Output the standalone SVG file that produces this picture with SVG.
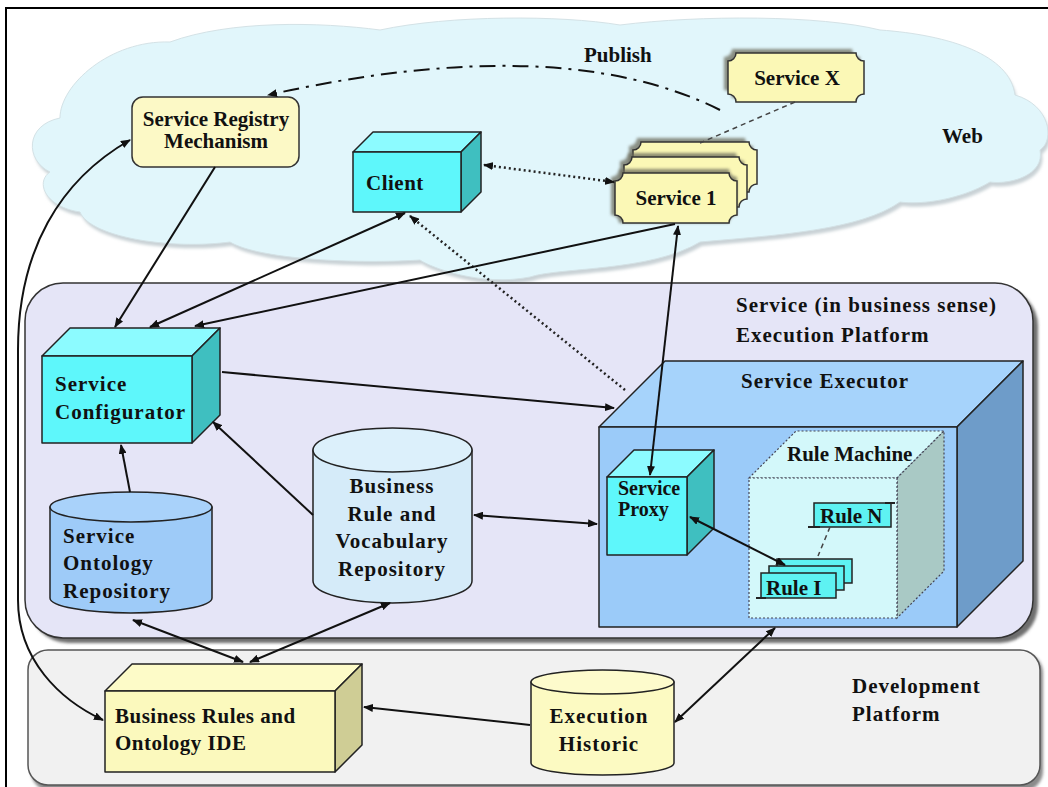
<svg xmlns="http://www.w3.org/2000/svg" width="1048" height="787" viewBox="0 0 1048 787">
  <defs>
    <style>
      .lbl { font-family: "Liberation Serif", "Times New Roman", serif; font-weight: bold; font-size: 21px; fill: #111; }
      .sm { font-size: 20px; }
      .sp { letter-spacing: 1px; }
      .mid { text-anchor: middle; }
      .edge { stroke: #222; stroke-width: 1.5; stroke-linejoin: round; }
      .conn { fill: none; stroke: #111; stroke-width: 2; }
      .dotted { fill: none; stroke: #222; stroke-width: 2.5; stroke-dasharray: 2 3; }
      .dashed { fill: none; stroke: #444; stroke-width: 1.5; stroke-dasharray: 5 4; }
      .cyanFront { fill: #5ef7fb; }
      .cyanTop { fill: #8cfbff; }
      .cyanSide { fill: #3fbfc0; }
      .tag { fill: #fbf8b6; stroke: #333; stroke-width: 1.5; }
      .tagShadow { fill: #6c6c5c; opacity: 0.75; }
      .rule { fill: #5ef2f2; stroke: #222; stroke-width: 1.5; }
    </style>
    <marker id="arrow" viewBox="0 0 10 8" refX="9" refY="4" markerWidth="10" markerHeight="8" markerUnits="userSpaceOnUse" orient="auto-start-reverse">
      <path d="M0,0 L10,4 L0,8 z" fill="#111"/>
    </marker>
    <filter id="soft" x="-10%" y="-10%" width="120%" height="120%">
      <feGaussianBlur stdDeviation="1.5"/>
    </filter>
  </defs>

  <!-- page frame -->
  <rect x="6" y="8" width="1050" height="800" fill="#ffffff" stroke="#000" stroke-width="2"/>

  <!-- web cloud -->
  <g id="web-cloud">
    <path d="M50,172 C25,160 25,125 60,118 C60,85 110,40 170,42 C230,20 320,22 380,30 C450,15 560,15 620,25 C700,15 820,15 880,30 C950,35 1010,55 1015,95 C1050,105 1055,140 1040,150 C1045,175 1010,185 990,182 C960,200 920,205 900,202 C860,230 780,235 700,242 C650,272 560,267 530,277 C480,287 430,267 420,260 C360,264 260,260 230,242 C170,250 90,237 80,212 C45,207 35,182 50,172 Z" fill="#c9d2d6" transform="translate(2,4)" filter="url(#soft)"/>
    <path d="M50,172 C25,160 25,125 60,118 C60,85 110,40 170,42 C230,20 320,22 380,30 C450,15 560,15 620,25 C700,15 820,15 880,30 C950,35 1010,55 1015,95 C1050,105 1055,140 1040,150 C1045,175 1010,185 990,182 C960,200 920,205 900,202 C860,230 780,235 700,242 C650,272 560,267 530,277 C480,287 430,267 420,260 C360,264 260,260 230,242 C170,250 90,237 80,212 C45,207 35,182 50,172 Z" fill="#e1f6fb" stroke="#d4e2e6" stroke-width="1"/>
    <text class="lbl" x="942" y="143">Web</text>
  </g>

  <!-- platforms -->
  <g id="execution-platform">
    <rect x="30" y="288" width="1008" height="355" rx="38" fill="#6e6e6e" filter="url(#soft)"/>
    <rect x="25" y="283" width="1008" height="355" rx="38" fill="#e5e5f7" stroke="#333" stroke-width="1.5"/>
    <text class="lbl sp" x="736" y="312">Service (in business sense)</text>
    <text class="lbl sp" x="736" y="342">Execution Platform</text>
  </g>
  <g id="development-platform">
    <rect x="31" y="653" width="1012" height="138" rx="20" fill="#8a8a8a" filter="url(#soft)"/>
    <rect x="28" y="650" width="1012" height="135" rx="20" fill="#f1f1f1" stroke="#555" stroke-width="1.5"/>
    <text class="lbl sp" x="852" y="693">Development</text>
    <text class="lbl sp" x="852" y="721">Platform</text>
  </g>

  <!-- service executor with nested proxy and rule machine -->
  <g id="service-executor">
    <polygon points="599,427 665,361 1023,361 957,427" fill="#a6d3fb" class="edge"/>
    <polygon points="957,427 1023,361 1023,561 957,627" fill="#6e9cc9" class="edge"/>
    <rect x="599" y="427" width="358" height="200" fill="#9bcbf9" class="edge"/>
    <text class="lbl sp" x="741" y="388">Service Executor</text>
  </g>
  <g id="rule-machine">
    <polygon points="749,478 796,431 944,431 897,478" fill="#d3f8fa" stroke="#445" stroke-width="1.2" stroke-dasharray="2 2"/>
    <polygon points="897,478 944,431 944,571 897,618" fill="#a9c9c5" stroke="#445" stroke-width="1.2" stroke-dasharray="2 2"/>
    <rect x="749" y="478" width="148" height="140" fill="#d3f8fa" stroke="#445" stroke-width="1.2" stroke-dasharray="2 2"/>
    <text class="lbl" x="787" y="461">Rule Machine</text>
  </g>
  <g id="service-proxy">
    <polygon points="607,477 634,450 714,450 687,477" class="cyanTop edge"/>
    <polygon points="687,477 714,450 714,528 687,555" class="cyanSide edge"/>
    <rect x="607" y="477" width="80" height="78" class="cyanFront edge"/>
    <text class="lbl sm" x="618" y="495">Service</text>
    <text class="lbl sm" x="618" y="516">Proxy</text>
  </g>
  <g id="rule-n">
    <rect x="814" y="503" width="77" height="24" class="rule"/>
    <line x1="808" y1="527" x2="820" y2="527" stroke="#222" stroke-width="2"/>
    <line x1="885" y1="503" x2="895" y2="503" stroke="#222" stroke-width="2"/>
    <text class="lbl" x="820" y="523">Rule N</text>
  </g>
  <g id="rule-1">
    <rect x="777" y="559" width="75" height="24" class="rule"/>
    <rect x="769" y="566" width="75" height="24" class="rule"/>
    <rect x="761" y="573" width="75" height="25" class="rule"/>
    <line x1="756" y1="598" x2="766" y2="598" stroke="#222" stroke-width="2"/>
    <text class="lbl" x="766" y="595">Rule I</text>
  </g>

  <!-- web nodes -->
  <g id="service-registry">
    <rect x="132" y="97" width="167" height="70" rx="11" fill="#fcf9c6" stroke="#333" stroke-width="1.5"/>
    <text class="lbl mid" x="216" y="126">Service Registry</text>
    <text class="lbl mid" x="216" y="148">Mechanism</text>
  </g>
  <g id="client">
    <polygon points="353,152 373,132 481,132 461,152" class="cyanTop edge"/>
    <polygon points="461,152 481,132 481,192 461,212" class="cyanSide edge"/>
    <rect x="353" y="152" width="108" height="60" class="cyanFront edge"/>
    <text class="lbl" x="366" y="190" letter-spacing="0.5">Client</text>
  </g>
  <g id="service-x">
    <path d="M732,49 H852 A8 8 0 0 0 860,57 V90 A8 8 0 0 0 852,98 H732 A8 8 0 0 0 724,90 V57 A8 8 0 0 0 732,49 Z" class="tagShadow" filter="url(#soft)"/>
    <path d="M736,53 H856 A8 8 0 0 0 864,61 V94 A8 8 0 0 0 856,102 H736 A8 8 0 0 0 728,94 V61 A8 8 0 0 0 736,53 Z" class="tag"/>
    <text class="lbl mid" x="797" y="85">Service X</text>
  </g>
  <g id="service-1">
    <path d="M637,138 H745 A8 8 0 0 0 753,146 V180 A8 8 0 0 0 745,188 H637 A8 8 0 0 0 629,180 V146 A8 8 0 0 0 637,138 Z" class="tagShadow" filter="url(#soft)"/>
    <path d="M641,142 H749 A8 8 0 0 0 757,150 V184 A8 8 0 0 0 749,192 H641 A8 8 0 0 0 633,184 V150 A8 8 0 0 0 641,142 Z" class="tag"/>
    <path d="M628,153 H736 A8 8 0 0 0 744,161 V195 A8 8 0 0 0 736,203 H628 A8 8 0 0 0 620,195 V161 A8 8 0 0 0 628,153 Z" class="tagShadow" filter="url(#soft)"/>
    <path d="M632,157 H739 A8 8 0 0 0 747,165 V199 A8 8 0 0 0 739,207 H632 A8 8 0 0 0 624,199 V165 A8 8 0 0 0 632,157 Z" class="tag"/>
    <path d="M619,169 H729 A8 8 0 0 0 737,177 V215 A8 8 0 0 0 729,223 H619 A8 8 0 0 0 611,215 V177 A8 8 0 0 0 619,169 Z" class="tagShadow" filter="url(#soft)"/>
    <path d="M623,173 H729 A8 8 0 0 0 737,181 V215 A8 8 0 0 0 729,223 H623 A8 8 0 0 0 615,215 V181 A8 8 0 0 0 623,173 Z" class="tag"/>
    <text class="lbl mid" x="676" y="205">Service 1</text>
  </g>

  <!-- platform nodes -->
  <g id="service-configurator">
    <polygon points="42,356 70,328 220,328 192,356" class="cyanTop edge"/>
    <polygon points="192,356 220,328 220,415 192,443" class="cyanSide edge"/>
    <rect x="42" y="356" width="150" height="87" class="cyanFront edge"/>
    <text class="lbl sp" x="55" y="391">Service</text>
    <text class="lbl sp" x="55" y="419">Configurator</text>
  </g>
  <g id="service-ontology-repository">
    <path d="M50,507 V598 A81 15 0 0 0 212,598 V507 Z" fill="#9ecbf8" class="edge"/>
    <ellipse cx="131" cy="507" rx="81" ry="15" fill="#a9d2fa" class="edge"/>
    <text class="lbl sp" x="63" y="543">Service</text>
    <text class="lbl sp" x="63" y="570">Ontology</text>
    <text class="lbl sp" x="63" y="598">Repository</text>
  </g>
  <g id="business-rule-vocabulary-repository">
    <path d="M313,450 V581 A79.5 22 0 0 0 472,581 V450 Z" fill="#d5ebf9" class="edge"/>
    <ellipse cx="392.5" cy="450" rx="79.5" ry="22" fill="#dcf0fb" class="edge"/>
    <text class="lbl mid sp" x="392" y="493">Business</text>
    <text class="lbl mid sp" x="392" y="521">Rule and</text>
    <text class="lbl mid sp" x="392" y="548">Vocabulary</text>
    <text class="lbl mid sp" x="392" y="576">Repository</text>
  </g>
  <g id="business-rules-ontology-ide">
    <polygon points="105,691 132,664 362,664 335,691" fill="#fdfbc8" class="edge"/>
    <polygon points="335,691 362,664 362,745 335,772" fill="#cfcd95" class="edge"/>
    <rect x="105" y="691" width="230" height="81" fill="#fbf9bd" class="edge"/>
    <text class="lbl" x="115" y="723" letter-spacing="0.5">Business Rules and</text>
    <text class="lbl" x="115" y="750" letter-spacing="0.5">Ontology IDE</text>
  </g>
  <g id="execution-historic">
    <path d="M531,682 V763 A71.5 12 0 0 0 674,763 V682 Z" fill="#fcfac2" class="edge"/>
    <ellipse cx="602.5" cy="682" rx="71.5" ry="12" fill="#fdfbcc" class="edge"/>
    <text class="lbl mid sp" x="599" y="723">Execution</text>
    <text class="lbl mid sp" x="599" y="751">Historic</text>
  </g>

  <!-- connectors -->
  <g id="connectors">
    <path class="conn" d="M720,110 Q560,30 268,95" stroke-width="2.5" stroke-dasharray="16 7 3 7" marker-end="url(#arrow)"/>
    <text class="lbl" x="584" y="62">Publish</text>
    <path class="dashed" d="M795,102 L700,143"/>
    <path class="dotted" d="M484,165 L614,182" marker-start="url(#arrow)" marker-end="url(#arrow)"/>
    <path class="dotted" d="M625,390 L410,216" marker-end="url(#arrow)"/>
    <path class="conn" d="M215,167 L115,327" marker-end="url(#arrow)"/>
    <path class="conn" d="M405,213 L150,327" marker-start="url(#arrow)" marker-end="url(#arrow)"/>
    <path class="conn" d="M675,224 L195,326" marker-end="url(#arrow)"/>
    <path class="conn" d="M678,226 L650,475" marker-start="url(#arrow)" marker-end="url(#arrow)"/>
    <path class="conn" d="M222,372 L614,408" marker-end="url(#arrow)"/>
    <path class="conn" d="M313,515 L213,422" marker-end="url(#arrow)"/>
    <path class="conn" d="M130,492 L121,445" marker-end="url(#arrow)"/>
    <path class="conn" d="M474,515 L597,524" marker-start="url(#arrow)" marker-end="url(#arrow)"/>
    <path class="conn" d="M133,620 L243,662" marker-start="url(#arrow)" marker-end="url(#arrow)"/>
    <path class="conn" d="M390,603 L250,662" marker-start="url(#arrow)" marker-end="url(#arrow)"/>
    <path class="conn" d="M530,725 L364,707" marker-end="url(#arrow)"/>
    <path class="conn" d="M675,722 L775,628" marker-start="url(#arrow)" marker-end="url(#arrow)"/>
    <path class="conn" d="M130,140 C60,180 18,250 18,350 L18,600 C18,660 60,700 103,720" marker-start="url(#arrow)" marker-end="url(#arrow)"/>
    <path class="conn" d="M690,517 L785,565" stroke-width="2.5" marker-start="url(#arrow)" marker-end="url(#arrow)"/>
    <path class="dashed" d="M830,527 L818,556"/>
  </g>
</svg>
